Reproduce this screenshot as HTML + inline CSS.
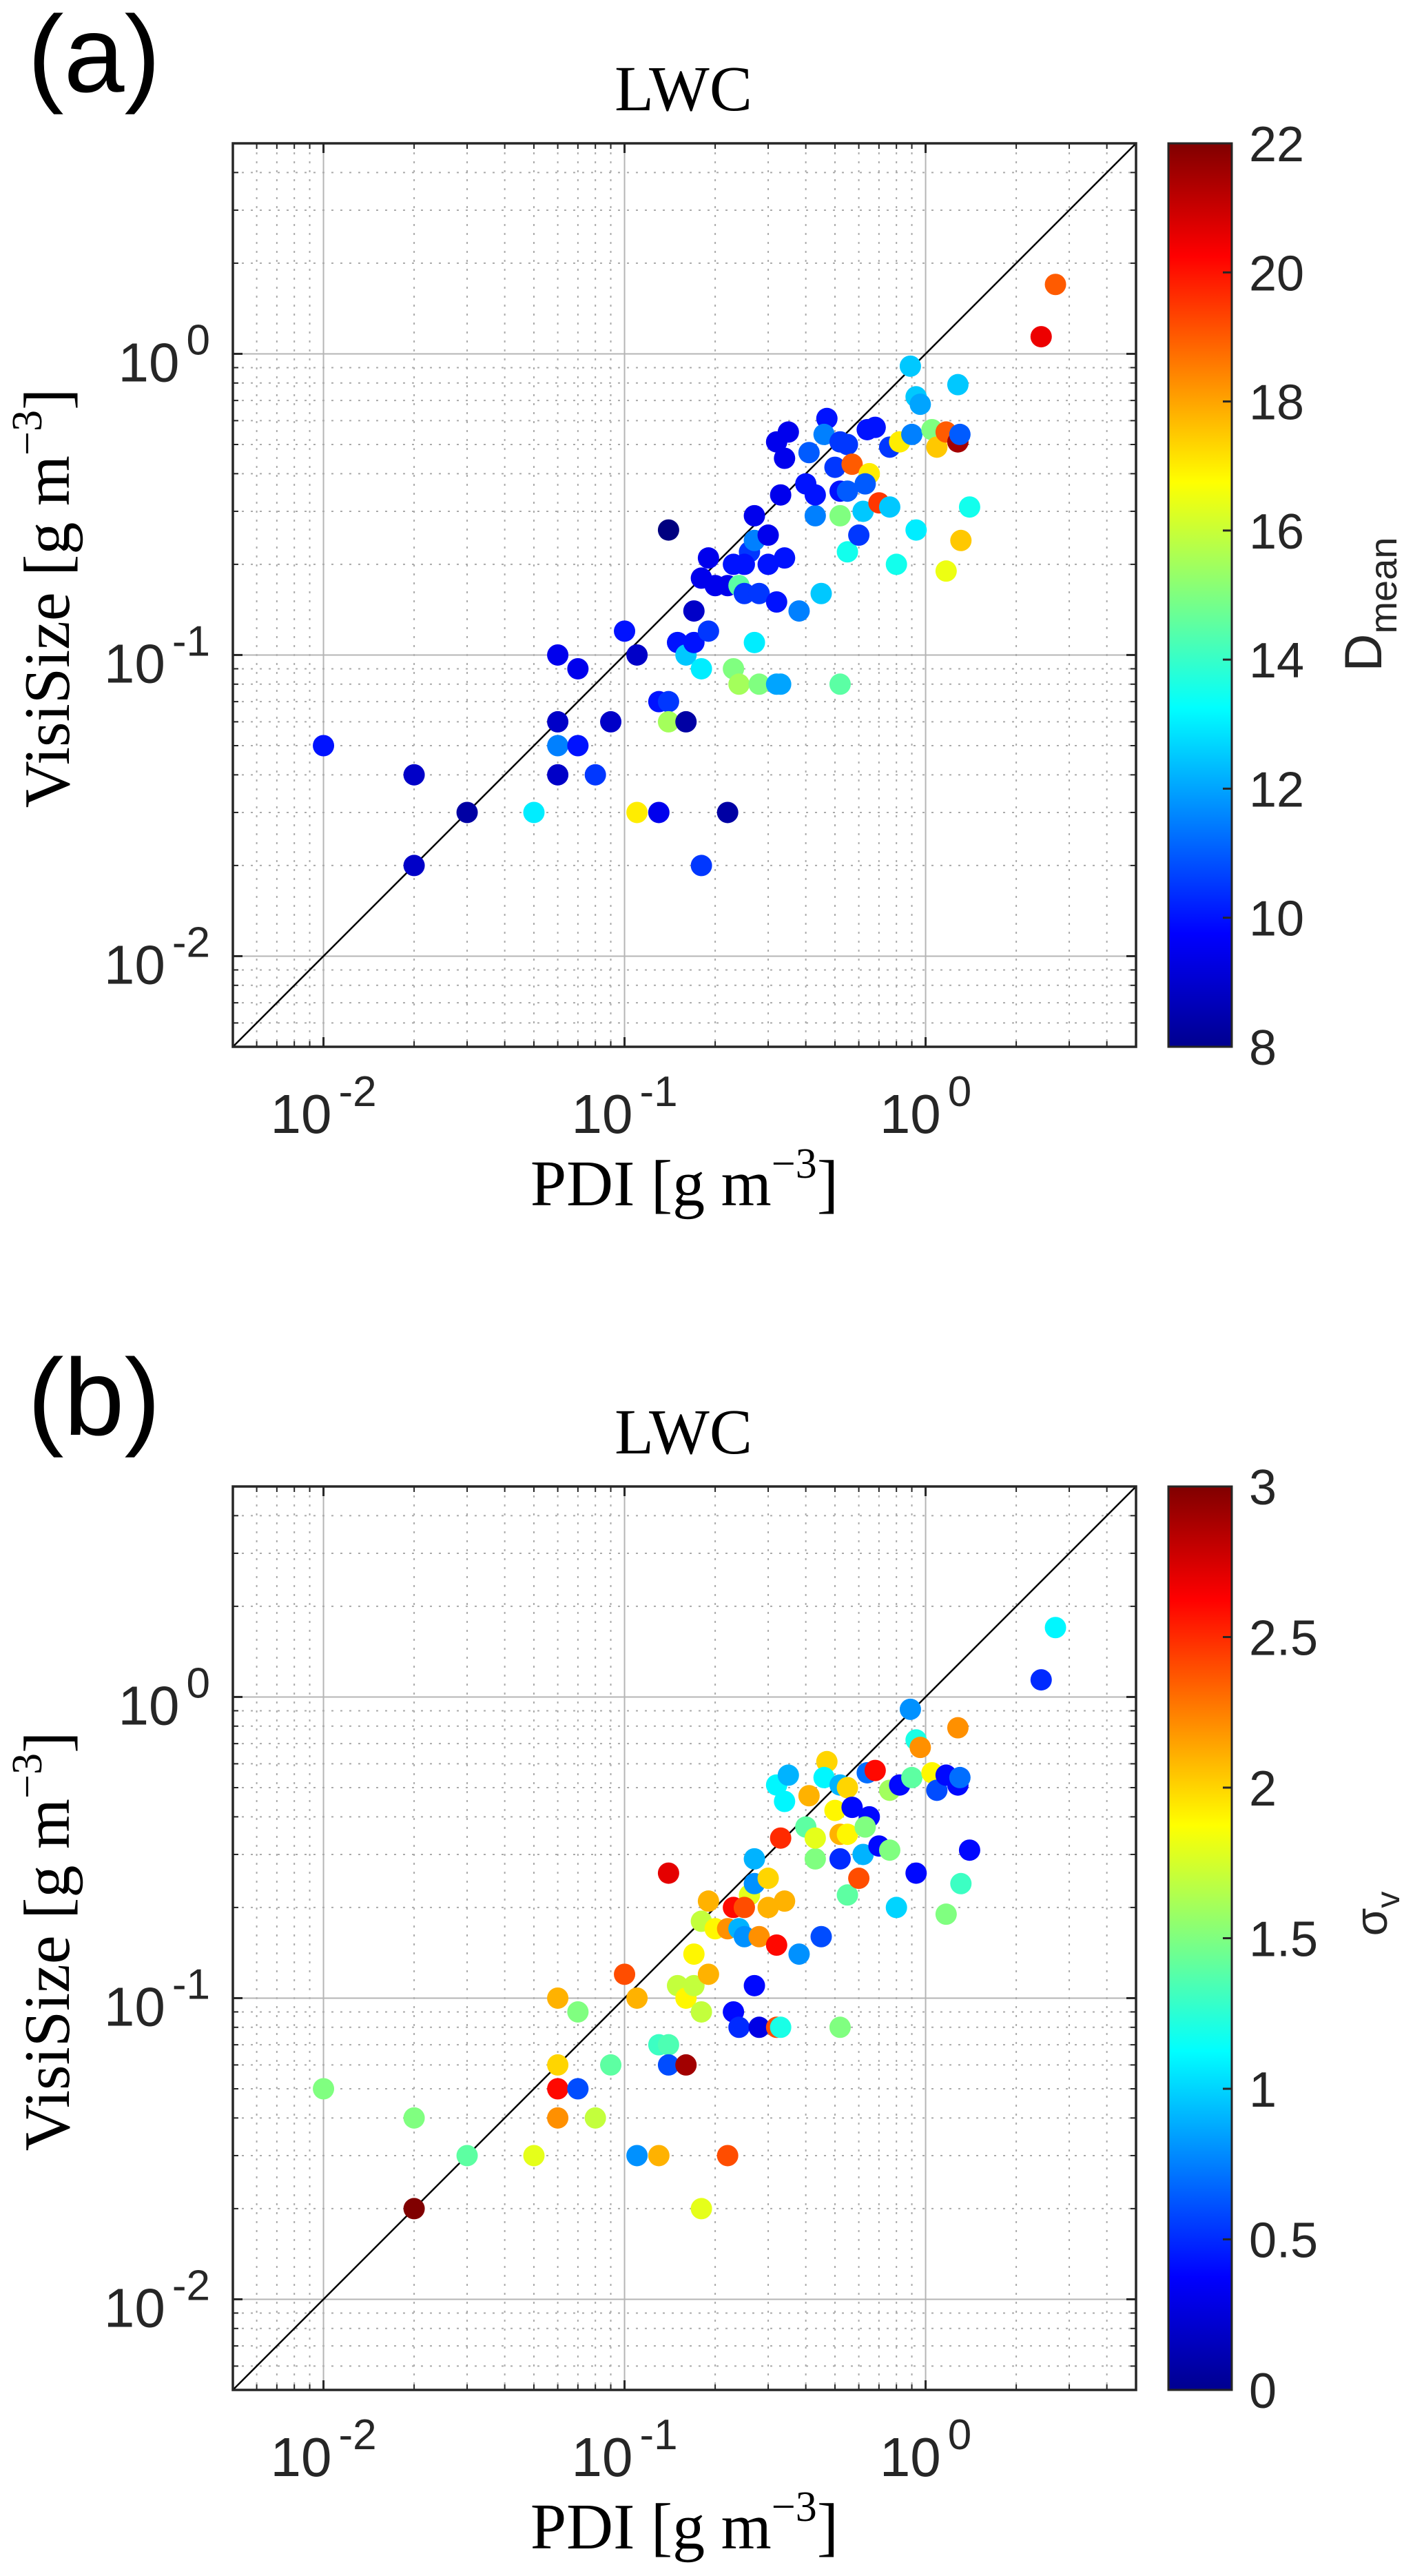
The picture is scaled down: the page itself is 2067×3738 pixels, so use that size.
<!DOCTYPE html>
<html><head><meta charset="utf-8"><style>
html,body{margin:0;padding:0;background:#fff;}
svg{display:block;}
.tk{font-family:"Liberation Sans",Arial,sans-serif;fill:#262626;}
.sr{font-family:"Liberation Serif","Times New Roman",serif;fill:#000;}
</style></head><body>
<svg id="fig" width="2067" height="3738" viewBox="0 0 2067 3738" xmlns="http://www.w3.org/2000/svg">
<defs>
<linearGradient id="jet" x1="0" y1="1" x2="0" y2="0">
<stop offset="0" stop-color="#00008f"/><stop offset="0.125" stop-color="#0000ff"/><stop offset="0.375" stop-color="#00ffff"/><stop offset="0.625" stop-color="#ffff00"/><stop offset="0.875" stop-color="#ff0000"/><stop offset="1" stop-color="#800000"/>
</linearGradient>
</defs>
</svg>
<script>
const pdi = [0.01,0.02,0.02,0.03,0.05,0.06,0.07,0.06,0.06,0.07,0.06,0.08,0.09,0.1,0.11,0.11,0.13,0.14,0.13,0.14,0.14,0.16,0.15,0.16,0.17,0.18,0.19,0.17,0.18,0.19,0.18,0.22,0.2,0.22,0.23,0.23,0.24,0.24,0.26,0.25,0.25,0.27,0.27,0.27,0.28,0.28,0.3,0.3,0.32,0.32,0.35,0.34,0.33,0.34,0.32,0.33,0.38,0.4,0.41,0.43,0.43,0.47,0.46,0.45,0.5,0.52,0.52,0.52,0.52,0.55,0.55,0.57,0.55,0.6,0.62,0.64,0.65,0.63,0.68,0.7,0.76,0.76,0.82,0.8,0.89,0.93,0.96,0.9,0.93,1.05,1.09,1.17,1.28,1.3,1.28,1.17,1.31,1.4,2.42,2.7];
const vis = [0.05,0.04,0.02,0.03,0.03,0.1,0.09,0.06,0.05,0.05,0.04,0.04,0.06,0.12,0.1,0.03,0.03,0.26,0.07,0.07,0.06,0.06,0.11,0.1,0.11,0.09,0.12,0.14,0.18,0.21,0.02,0.03,0.17,0.17,0.2,0.09,0.08,0.17,0.22,0.2,0.16,0.29,0.24,0.11,0.16,0.08,0.25,0.2,0.15,0.51,0.55,0.45,0.34,0.21,0.08,0.08,0.14,0.37,0.47,0.29,0.34,0.61,0.54,0.16,0.42,0.51,0.29,0.08,0.35,0.5,0.35,0.43,0.22,0.25,0.3,0.56,0.4,0.37,0.57,0.32,0.49,0.31,0.51,0.2,0.91,0.72,0.68,0.54,0.26,0.56,0.49,0.55,0.51,0.54,0.79,0.19,0.24,0.31,1.14,1.7];
const dmean = [10,9,9,8.5,13,9.5,9.5,9,11.5,10,9,10.5,9,10,9,17,9.5,8,10,10.5,15.5,8.5,10,12.5,10,13,10.5,9,9.5,9.5,10.5,8.5,9.5,9.5,10,15,15.5,14.5,10.5,10,10.5,9.5,11.5,13,10.5,15,9.5,10,10,9.5,9.5,9.5,9.5,10,12,12,11.5,10,11,11.5,10,10,11.5,12.5,10.5,10.5,15,14.5,10,10.5,11,19,13.5,10.5,12.5,10,17,11,10,19.5,10.5,12.5,17,13.5,12.5,12.5,12,11.5,13,15,17.5,19,21.5,11,12.5,16.5,17.5,13.5,20.5,19];
const sigma = [1.5,1.5,3,1.4,1.8,2.1,1.5,2.0,2.6,0.6,2.2,1.7,1.4,2.4,2.1,0.8,2.1,2.7,1.3,1.35,0.6,2.9,1.7,1.9,1.7,1.7,2.1,1.9,1.7,2.1,1.8,2.4,1.9,2.2,2.6,0.4,0.5,0.9,1.8,2.4,0.8,0.9,0.8,0.4,2.2,0.3,2.0,2.1,2.6,1.1,0.9,1.1,2.5,2.1,2.4,1.2,0.8,1.4,2.1,1.5,1.8,2.0,1.1,0.6,1.9,0.9,0.5,1.5,2.1,2.0,1.9,0.4,1.4,2.4,0.9,0.7,0.4,1.5,2.6,0.4,1.6,1.5,0.4,1.0,0.8,1.2,2.2,1.4,0.4,1.9,0.6,0.4,0.4,0.7,2.2,1.5,1.3,0.4,0.5,1.1];
const cbTicksA = [8,10,12,14,16,18,20,22];
const cbTicksB = [0,0.5,1,1.5,2,2.5,3];
const decadeExps = [-2,-1,0];

const NS='http://www.w3.org/2000/svg';
const svg=document.getElementById('fig');
function mk(tag,attrs,parent){const e=document.createElementNS(NS,tag);for(const k in attrs)e.setAttribute(k,attrs[k]);(parent||svg).appendChild(e);return e;}
function jet(t){t=Math.max(0,Math.min(1,t));const c=v=>Math.round(255*Math.max(0,Math.min(1,v)));
return 'rgb('+c(1.5-Math.abs(4*t-3))+','+c(1.5-Math.abs(4*t-2))+','+c(1.5-Math.abs(4*t-1))+')';}

const L=338,R=1649,LMIN=Math.log10(0.005),LMAX=Math.log10(5);
function panel(oy,letter,cvals,cmin,cmax,cticks,cblabel){
  const T=208+oy,B=1519+oy;
  const xs=v=>L+(Math.log10(v)-LMIN)/(LMAX-LMIN)*(R-L);
  const ys=v=>B-(Math.log10(v)-LMIN)/(LMAX-LMIN)*(B-T);
  const g=mk('g',{});
  
  
  const grid=mk('g',{},g);
  
  
  for(let e=-3;e<=0;e++){for(let m=1;m<=9;m++){const v=m*Math.pow(10,e);if(v<0.005||v>5)continue;
    const x=xs(v),y=ys(v);
    if(m===1){
      mk('line',{x1:x,y1:T,x2:x,y2:B,stroke:'#b5b5b5','stroke-width':2},grid);
      mk('line',{x1:L,y1:y,x2:R,y2:y,stroke:'#b5b5b5','stroke-width':2},grid);
      mk('line',{x1:x,y1:B,x2:x,y2:B-14,stroke:'#262626','stroke-width':3},grid);
      mk('line',{x1:x,y1:T,x2:x,y2:T+14,stroke:'#262626','stroke-width':3},grid);
      mk('line',{x1:L,y1:y,x2:L+14,y2:y,stroke:'#262626','stroke-width':3},grid);
      mk('line',{x1:R,y1:y,x2:R-14,y2:y,stroke:'#262626','stroke-width':3},grid);
    } else {
      mk('line',{x1:x,y1:T,x2:x,y2:B,stroke:'#aaaaaa','stroke-width':2,'stroke-dasharray':'3 10'},grid);
      mk('line',{x1:L,y1:y,x2:R,y2:y,stroke:'#aaaaaa','stroke-width':2,'stroke-dasharray':'3 10'},grid);
      mk('line',{x1:x,y1:B,x2:x,y2:B-8,stroke:'#262626','stroke-width':2},grid);
      mk('line',{x1:x,y1:T,x2:x,y2:T+8,stroke:'#262626','stroke-width':2},grid);
      mk('line',{x1:L,y1:y,x2:L+8,y2:y,stroke:'#262626','stroke-width':2},grid);
      mk('line',{x1:R,y1:y,x2:R-8,y2:y,stroke:'#262626','stroke-width':2},grid);
    }}}
  const cp=mk('clipPath',{id:'clip'+letter},g);
  mk('rect',{x:L,y:T,width:R-L,height:B-T},cp);
  const diag=mk('line',{x1:xs(0.005),y1:ys(0.005),x2:xs(5),y2:ys(5),stroke:'#000','stroke-width':2.5},g);
  
  
  const pts=mk('g',{'clip-path':'url(#clip'+letter+')'},g);
  
  
  for(let i=0;i<pdi.length;i++){
    const c=mk('circle',{cx:xs(pdi[i]),cy:ys(vis[i]),r:15.5,fill:jet((cvals[i]-cmin)/(cmax-cmin))},pts);
    
    
  }
  const box=mk('rect',{x:L,y:T,width:R-L,height:B-T,fill:'none',stroke:'#262626','stroke-width':3.5},g);
  
  
  decadeExps.forEach(e=>{
    const tx=mk('text',{x:xs(Math.pow(10,e)),y:B+125,'text-anchor':'middle',class:'tk','font-size':80},g);
    
    
    tx.innerHTML='10<tspan font-size="62" dx="10" dy="-39">'+(e===0?'0':String(e))+'</tspan>';
    const ty=mk('text',{x:305,y:ys(Math.pow(10,e))+40,'text-anchor':'end',class:'tk','font-size':80},g);
    
    
    ty.innerHTML='10<tspan font-size="62" dx="10" dy="-39">'+(e===0?'0':String(e))+'</tspan>';
  });
  const xl=mk('text',{x:(L+R)/2,y:1749+oy,'text-anchor':'middle',class:'sr','font-size':94},g);
  
  
  xl.innerHTML='PDI [g m<tspan font-size="62" dy="-40">−3</tspan><tspan dy="40">]</tspan>';
  const yl=mk('text',{x:0,y:0,'text-anchor':'middle',class:'sr','font-size':94,transform:'translate(100,'+(868+oy)+') rotate(-90)'},g);
  
  
  yl.innerHTML='VisiSize [g m<tspan font-size="62" dy="-40">−3</tspan><tspan dy="40">]</tspan>';
  const ti=mk('text',{x:992,y:160+oy,'text-anchor':'middle',class:'sr','font-size':93},g);
  
  
  ti.textContent='LWC';
  const pl=mk('text',{x:40,y:133+oy,class:'tk','font-size':158,style:'fill:#000'},g);
  
  
  pl.textContent='('+letter+')';
  const CL=1696,CR=1788;
  const cb=mk('rect',{x:CL,y:T,width:CR-CL,height:B-T,fill:'url(#jet)',stroke:'#262626','stroke-width':3},g);
  
  
  const cy=v=>B-(v-cmin)/(cmax-cmin)*(B-T);
  cticks.forEach(v=>{
    mk('line',{x1:CR-13,y1:cy(v),x2:CR,y2:cy(v),stroke:'#262626','stroke-width':3},g);
    const t=mk('text',{x:1813,y:cy(v)+26,class:'tk','font-size':72},g);
    
    
    t.textContent=String(v);
  });
  const cl=mk('text',{x:0,y:0,'text-anchor':'middle',class:'tk','font-size':cblabel.size,transform:'translate('+cblabel.x+','+(cblabel.y+oy)+') rotate(-90)'},g);
  
  
  cl.innerHTML=cblabel.html;
}
panel(0,'a',dmean,8,22,cbTicksA,{x:2005,y:877,size:76,html:'D<tspan font-size="56" dy="22">mean</tspan>'});
panel(1949,'b',sigma,0,3,cbTicksB,{x:2013,y:828,size:66,html:'σ<tspan font-size="48" dy="18">v</tspan>'});
</script>
</body></html>
